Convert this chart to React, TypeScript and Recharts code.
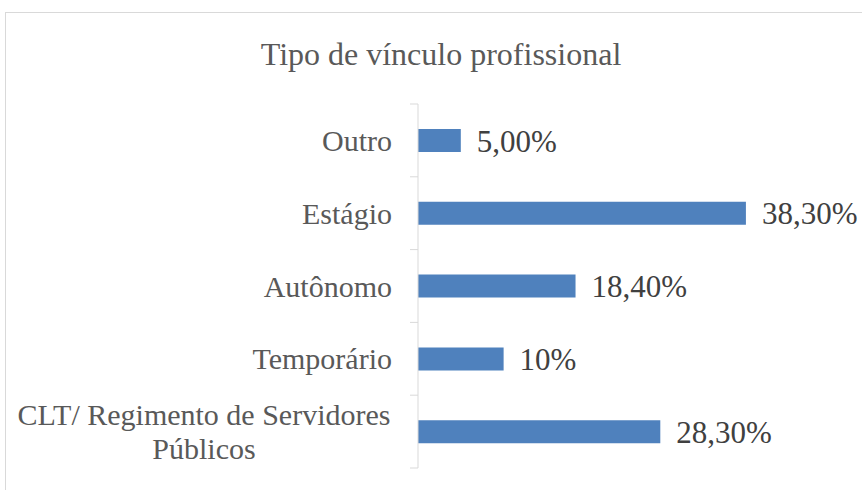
import React from 'react';
import { BarChart, Bar, XAxis, YAxis, LabelList } from 'recharts';

const categories = ['Outro', 'Estágio', 'Autônomo', 'Temporário', 'CLT/ Regimento de Servidores Públicos'];
const values = [5, 38.3, 18.4, 10, 28.3];
const valueLabels = ['5,00%', '38,30%', '18,40%', '10%', '28,30%'];

const data = categories.map((name, i) => ({ name, value: values[i], label: valueLabels[i] }));

const W = 862;
const H = 490;
const AXIS_X = 418;
const TOP = 104;
const BOTTOM = 22;
const BAND = (H - TOP - BOTTOM) / categories.length;
const FONT = '"Liberation Serif", "Times New Roman", serif';
const GRID = '#d9d9d9';

// wrap long category names into lines of at most ~28 chars
const wrap = (text: string, max = 28) => {
  const lines: string[] = [];
  let cur = '';
  text.split(' ').forEach((w) => {
    const next = cur ? cur + ' ' + w : w;
    if (next.length > max && cur) {
      lines.push(cur);
      cur = w;
    } else {
      cur = next;
    }
  });
  if (cur) lines.push(cur);
  return lines;
};

const CategoryTick = (props: any) => {
  const { y, payload, index } = props;
  const lines = wrap(String(payload.value));
  const labelRight = AXIS_X - 26;
  const last = index === categories.length - 1;
  return (
    <g>
      <line x1={AXIS_X - 8} x2={AXIS_X} y1={y - BAND / 2} y2={y - BAND / 2} stroke={GRID} />
      {last && <line x1={AXIS_X - 8} x2={AXIS_X} y1={y + BAND / 2} y2={y + BAND / 2} stroke={GRID} />}
      {lines.length === 1 ? (
        <text x={labelRight} y={y} dy="0.35em" textAnchor="end" fill="#595959" fontSize={30} fontFamily={FONT}>
          {lines[0]}
        </text>
      ) : (
        <text x={labelRight - 188} y={y - 17 * (lines.length - 1)} textAnchor="middle" fill="#595959" fontSize={30} fontFamily={FONT}>
          {lines.map((l, i) => (
            <tspan key={i} x={labelRight - 188} dy={i === 0 ? '0.35em' : 34}>
              {l}
            </tspan>
          ))}
        </text>
      )}
    </g>
  );
};

export default function App() {
  return (
    <div style={{ position: 'absolute', left: 0, top: 0, width: W, height: H, overflow: 'hidden', background: '#fff' }}>
      <div
        style={{
          position: 'absolute',
          left: 5,
          top: 12,
          width: W + 20,
          height: H + 20,
          border: `1px solid ${GRID}`,
        }}
      />
      <div
        style={{
          position: 'absolute',
          left: 0,
          top: 38,
          width: 882,
          textAlign: 'center',
          fontFamily: FONT,
          fontSize: 32,
          lineHeight: '32px',
          color: '#595959',
        }}
      >
        Tipo de vínculo profissional
      </div>
      <div style={{ position: 'absolute', left: 0, top: 0 }}>
        <BarChart
          width={W}
          height={H}
          data={data}
          layout="vertical"
          margin={{ top: TOP, right: 63, bottom: BOTTOM, left: 0 }}
        >
          <XAxis type="number" domain={[0, 44.5]} hide />
          <YAxis
            type="category"
            dataKey="name"
            width={AXIS_X}
            interval={0}
            axisLine={{ stroke: GRID }}
            tickLine={false}
            tick={<CategoryTick />}
          />
          <Bar dataKey="value" fill="#4F81BD" barSize={23} isAnimationActive={false}>
            <LabelList dataKey="label" position="right" offset={16} fill="#404040" fontSize={31} fontFamily={FONT} />
          </Bar>
        </BarChart>
      </div>
    </div>
  );
}
